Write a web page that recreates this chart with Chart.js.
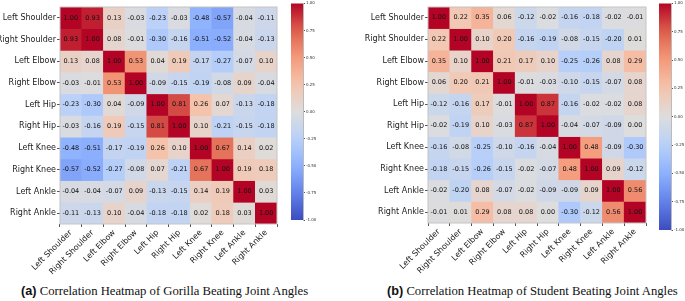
<!DOCTYPE html>
<html>
<head>
<meta charset="utf-8">
<script src="https://cdn.jsdelivr.net/npm/chart.js@4.4.1/dist/chart.umd.min.js"></script>
<style>
  html, body { margin: 0; padding: 0; background: #fff; }
  body { width: 685px; height: 301px; position: relative; overflow: hidden; }
  .box { position: absolute; }
  .caption { position: absolute; top: 285px; font-family: "Liberation Serif", serif; font-size: 12.7px; line-height: 13px; color: #111; white-space: nowrap; }
  .caption b { font-family: "Liberation Sans", Arial, sans-serif; font-weight: bold; }
</style>
</head>
<body>
<div class="box" style="left:0px;top:0px;width:282px;height:280px"><canvas id="gorilla"></canvas></div>
<div class="box" style="left:291px;top:0px;width:30px;height:230px"><canvas id="cbarA"></canvas></div>
<div class="box" style="left:345px;top:0px;width:305px;height:280px"><canvas id="student"></canvas></div>
<div class="box" style="left:659px;top:0px;width:26px;height:240px"><canvas id="cbarB"></canvas></div>
<div class="caption" style="left:21px"><b>(a)</b> Correlation Heatmap of Gorilla Beating Joint Angles</div>
<div class="caption" style="left:387px"><b>(b)</b> Correlation Heatmap of Student Beating Joint Angles</div>
<script>
const joints = ['Left Shoulder', 'Right Shoulder', 'Left Elbow', 'Right Elbow', 'Left Hip',
                'Right Hip', 'Left Knee', 'Right Knee', 'Left Ankle', 'Right Ankle'];

const gorillaCorr = [
  [ 1.00,  0.93,  0.13, -0.03, -0.23, -0.03, -0.48, -0.57, -0.04, -0.11],
  [ 0.93,  1.00,  0.08, -0.01, -0.30, -0.16, -0.51, -0.52, -0.04, -0.13],
  [ 0.13,  0.08,  1.00,  0.53,  0.04,  0.19, -0.17, -0.27, -0.07,  0.10],
  [-0.03, -0.01,  0.53,  1.00, -0.09, -0.15, -0.19, -0.08,  0.09, -0.04],
  [-0.23, -0.30,  0.04, -0.09,  1.00,  0.81,  0.26,  0.07, -0.13, -0.18],
  [-0.03, -0.16,  0.19, -0.15,  0.81,  1.00,  0.10, -0.21, -0.15, -0.18],
  [-0.48, -0.51, -0.17, -0.19,  0.26,  0.10,  1.00,  0.67,  0.14,  0.02],
  [-0.57, -0.52, -0.27, -0.08,  0.07, -0.21,  0.67,  1.00,  0.19,  0.18],
  [-0.04, -0.04, -0.07,  0.09, -0.13, -0.15,  0.14,  0.19,  1.00,  0.03],
  [-0.11, -0.13,  0.10, -0.04, -0.18, -0.18,  0.02,  0.18,  0.03,  1.00]
];

const studentCorr = [
  [ 1.00,  0.22,  0.35,  0.06, -0.12, -0.02, -0.16, -0.18, -0.02, -0.01],
  [ 0.22,  1.00,  0.10,  0.20, -0.16, -0.19, -0.08, -0.15, -0.20,  0.01],
  [ 0.35,  0.10,  1.00,  0.21,  0.17,  0.10, -0.25, -0.26,  0.08,  0.29],
  [ 0.06,  0.20,  0.21,  1.00, -0.01, -0.03, -0.10, -0.15, -0.07,  0.08],
  [-0.12, -0.16,  0.17, -0.01,  1.00,  0.87, -0.16, -0.02, -0.02,  0.08],
  [-0.02, -0.19,  0.10, -0.03,  0.87,  1.00, -0.04, -0.07, -0.09,  0.00],
  [-0.16, -0.08, -0.25, -0.10, -0.16, -0.04,  1.00,  0.48, -0.09, -0.30],
  [-0.18, -0.15, -0.26, -0.15, -0.02, -0.07,  0.48,  1.00,  0.09, -0.12],
  [-0.02, -0.20,  0.08, -0.07, -0.02, -0.09, -0.09,  0.09,  1.00,  0.56],
  [-0.01,  0.01,  0.29,  0.08,  0.08,  0.00, -0.30, -0.12,  0.56,  1.00]
];

const cbarTicks = [-1, -0.75, -0.5, -0.25, 0, 0.25, 0.5, 0.75, 1];

// coolwarm colormap stops
const cmap = [
  [0.000, 59, 76, 192], [0.125, 98, 130, 234], [0.250, 141, 176, 254],
  [0.375, 184, 208, 249], [0.500, 221, 221, 221], [0.625, 245, 196, 173],
  [0.750, 244, 154, 123], [0.875, 222, 96, 77], [1.000, 180, 4, 38]
];

function coolwarm(v) {
  const t = Math.max(0, Math.min(1, (v + 1) / 2));
  for (let i = 1; i < cmap.length; i++) {
    if (t <= cmap[i][0]) {
      const a = cmap[i - 1], b = cmap[i];
      const f = (t - a[0]) / (b[0] - a[0]);
      const c = [1, 2, 3].map(k => Math.round(a[k] + (b[k] - a[k]) * f));
      return `rgb(${c[0]},${c[1]},${c[2]})`;
    }
  }
  return 'rgb(180,4,38)';
}

const font = 'DejaVu Sans';

const cellText = {
  id: 'cellText',
  afterDatasetsDraw(chart) {
    const ctx = chart.ctx;
    ctx.save();
    ctx.font = `6.5px "${font}"`;
    ctx.fillStyle = '#111';
    ctx.textAlign = 'center';
    ctx.textBaseline = 'middle';
    chart.data.datasets.forEach((ds, r) => {
      chart.getDatasetMeta(r).data.forEach((el, c) => {
        ctx.fillText(ds.values[c].toFixed(2), el.x, (el.y + el.base) / 2);
      });
    });
    const a = chart.chartArea;
    ctx.strokeStyle = '#c4c4c4';
    ctx.lineWidth = 1;
    ctx.strokeRect(a.left, a.top, a.right - a.left, a.bottom - a.top);
    ctx.restore();
  }
};

function heatmap(id, matrix, yWidth, xHeight, padRight) {
  new Chart(document.getElementById(id), {
    type: 'bar',
    data: {
      labels: joints,
      datasets: matrix.map((row, r) => ({
        values: row,
        data: row.map(() => [r, r + 1]),
        backgroundColor: row.map(coolwarm),
        borderWidth: 0,
        barPercentage: 1,
        categoryPercentage: 1,
        grouped: false
      }))
    },
    options: {
      animation: false,
      responsive: true,
      maintainAspectRatio: false,
      layout: { padding: { top: 7, right: padRight, left: 0, bottom: 0 } },
      plugins: { legend: { display: false }, tooltip: { enabled: false } },
      scales: {
        x: {
          type: 'category',
          afterFit: s => { s.height = xHeight; },
          ticks: { autoSkip: false, maxRotation: 45, minRotation: 45, padding: 1,
                   color: '#222', font: { family: font, size: 8 } },
          grid: { drawOnChartArea: false, tickLength: 3, color: '#555' },
          border: { display: false }
        },
        y: {
          type: 'linear',
          min: 0,
          max: 10,
          reverse: true,
          afterFit: s => { s.width = yWidth; },
          afterBuildTicks: s => { s.ticks = joints.map((_, i) => ({ value: i + 0.5 })); },
          ticks: { autoSkip: false, padding: 1, callback: (v, i) => joints[i],
                   color: '#222', font: { family: font, size: 8 } },
          grid: { drawOnChartArea: false, tickLength: 3, color: '#555' },
          border: { display: false }
        }
      }
    },
    plugins: [cellText]
  });
}

function colorbar(id, yWidth, padTop, padBottom) {
  new Chart(document.getElementById(id), {
    type: 'bar',
    data: {
      labels: [''],
      datasets: [{
        data: [[-1, 1]],
        borderWidth: 0,
        barPercentage: 1,
        categoryPercentage: 1,
        backgroundColor: c => {
          const area = c.chart.chartArea;
          if (!area) return null;
          const g = c.chart.ctx.createLinearGradient(0, area.bottom, 0, area.top);
          for (let i = 0; i <= 20; i++) g.addColorStop(i / 20, coolwarm(-1 + i / 10));
          return g;
        }
      }]
    },
    options: {
      animation: false,
      responsive: true,
      maintainAspectRatio: false,
      layout: { padding: { top: padTop, bottom: padBottom, left: 0, right: 0 } },
      plugins: { legend: { display: false }, tooltip: { enabled: false } },
      scales: {
        x: { display: false },
        y: {
          position: 'right',
          min: -1,
          max: 1,
          afterFit: s => { s.width = yWidth; },
          afterBuildTicks: s => { s.ticks = cbarTicks.map(v => ({ value: v })); },
          ticks: { padding: 1, callback: v => v.toFixed(2), color: '#333',
                   font: { family: font, size: 4 } },
          grid: { drawOnChartArea: false, tickLength: 2, color: '#555' },
          border: { display: true, color: '#bbb' }
        }
      }
    }
  });
}

heatmap('gorilla', gorillaCorr, 60, 56, 5);
heatmap('student', studentCorr, 83, 57, 4);
colorbar('cbarA', 18, 1, 10);
colorbar('cbarB', 14, 1, 10);
</script>
</body>
</html>
